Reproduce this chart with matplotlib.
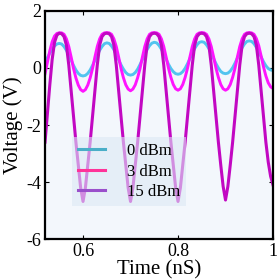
import numpy as np
import matplotlib
matplotlib.use('Agg')
import matplotlib.pyplot as plt
from matplotlib.lines import Line2D
from matplotlib.ticker import FuncFormatter

plt.rcParams['font.family'] = ['Liberation Serif', 'DejaVu Serif']

# Time axis (ns), sampled every 5 ps
time_ns = np.linspace(0.52, 1.0, 97)

# Output voltage (V) for each drive power
v_0dbm = [
    0.18, 0.36, 0.52, 0.66, 0.77, 0.84,
    0.86, 0.84, 0.75, 0.62, 0.45, 0.27, 0.09, -0.07, -0.19, -0.26,
    -0.28, -0.26, -0.19, -0.07, 0.09, 0.27, 0.45, 0.62, 0.75, 0.85,
    0.88, 0.86, 0.77, 0.64, 0.47, 0.29, 0.11, -0.04, -0.16, -0.23,
    -0.25, -0.23, -0.16, -0.04, 0.12, 0.30, 0.48, 0.65, 0.78, 0.87,
    0.90, 0.88, 0.79, 0.66, 0.49, 0.31, 0.13, -0.02, -0.13, -0.20,
    -0.22, -0.20, -0.13, -0.01, 0.15, 0.33, 0.51, 0.68, 0.81, 0.90,
    0.92, 0.90, 0.81, 0.68, 0.51, 0.33, 0.15, 0.00, -0.12, -0.18,
    -0.20, -0.18, -0.11, 0.01, 0.17, 0.35, 0.54, 0.71, 0.84, 0.93,
    0.95, 0.93, 0.85, 0.72, 0.56, 0.39, 0.22, 0.08, -0.02, -0.07, -0.09,
]
v_3dbm = [
    -0.20, 0.20, 0.60, 0.92, 1.12, 1.21,
    1.23, 1.23, 1.18, 1.02, 0.75, 0.38, -0.02, -0.35, -0.60, -0.76,
    -0.82, -0.76, -0.60, -0.35, -0.02, 0.38, 0.75, 1.02, 1.18, 1.23,
    1.24, 1.23, 1.18, 1.02, 0.75, 0.38, -0.02, -0.34, -0.59, -0.74,
    -0.80, -0.74, -0.59, -0.34, -0.02, 0.38, 0.75, 1.02, 1.18, 1.23,
    1.24, 1.23, 1.18, 1.02, 0.75, 0.38, -0.01, -0.33, -0.58, -0.73,
    -0.78, -0.73, -0.58, -0.33, -0.01, 0.38, 0.75, 1.02, 1.18, 1.23,
    1.24, 1.23, 1.18, 1.02, 0.75, 0.38, -0.01, -0.33, -0.58, -0.73,
    -0.78, -0.73, -0.58, -0.33, -0.01, 0.38, 0.75, 1.02, 1.18, 1.23,
    1.24, 1.23, 1.18, 1.03, 0.78, 0.42, 0.04, -0.28, -0.52, -0.66, -0.72,
]
v_15dbm = [
    -2.60, -1.60, -0.60, 0.30, 0.90, 1.15,
    1.22, 1.20, 1.10, 0.80, 0.10, -0.80, -1.70, -2.60, -3.40, -4.20,
    -4.68, -4.20, -3.40, -2.60, -1.70, -0.80, 0.10, 0.80, 1.10, 1.20,
    1.22, 1.20, 1.10, 0.80, 0.10, -0.80, -1.70, -2.60, -3.40, -4.20,
    -4.68, -4.20, -3.40, -2.60, -1.70, -0.80, 0.10, 0.80, 1.10, 1.20,
    1.22, 1.20, 1.10, 0.80, 0.10, -0.80, -1.70, -2.60, -3.40, -4.20,
    -4.68, -4.20, -3.40, -2.60, -1.70, -0.80, 0.10, 0.80, 1.10, 1.20,
    1.22, 1.20, 1.10, 0.80, 0.10, -0.80, -1.70, -2.60, -3.40, -4.15,
    -4.63, -4.15, -3.40, -2.60, -1.70, -0.80, 0.10, 0.80, 1.10, 1.20,
    1.22, 1.20, 1.10, 0.80, 0.10, -0.80, -1.70, -2.60, -3.30, -3.80, -4.10,
]

labels = ['0 dBm', '3 dBm', '15 dBm']
line_colors = ['#52c4ef', '#ff14ff', '#c208c2']
legend_colors = ['#4aaec8', '#ff3399', '#9a4fcb']

fig = plt.figure(figsize=(2.78, 2.80), dpi=100)
ax = fig.add_axes([0.162, 0.146, 0.82, 0.815])
ax.set_facecolor('#f3f7fc')

ax.plot(time_ns, v_0dbm, color=line_colors[0], lw=2.1)
ax.plot(time_ns, v_3dbm, color=line_colors[1], lw=2.1)
ax.plot(time_ns, v_15dbm, color=line_colors[2], lw=2.2)

ax.set_xlim(0.52, 1.0)
ax.set_ylim(-6, 2)
ax.set_xticks([0.6, 0.8, 1.0])
ax.set_yticks([-6, -4, -2, 0, 2])
ax.xaxis.set_major_formatter(FuncFormatter(lambda v, p: ('%g' % v)))
ax.yaxis.set_major_formatter(FuncFormatter(lambda v, p: ('%g' % v)))
ax.tick_params(direction='in', top=True, right=True, labelsize=13,
               length=3, width=0.8, pad=3)
for s in ax.spines.values():
    s.set_linewidth(1.6)
    s.set_color('black')

ax.set_xlabel('Time (nS)', fontsize=15, labelpad=0)
ax.set_ylabel('Voltage (V)', fontsize=15, labelpad=2)

handles = [Line2D([0], [0], color=c, lw=2.2) for c in legend_colors]
leg = ax.legend(handles, labels, loc='lower left', bbox_to_anchor=(0.12, 0.145),
                borderaxespad=0, fontsize=12, frameon=True, fancybox=False,
                handlelength=1.6, handletextpad=1.35, labelspacing=0.28,
                borderpad=0.35)
frame = leg.get_frame()
frame.set_facecolor('#dce8f5')
frame.set_alpha(0.6)
frame.set_edgecolor('none')

fig.savefig('out.png', dpi=100)
